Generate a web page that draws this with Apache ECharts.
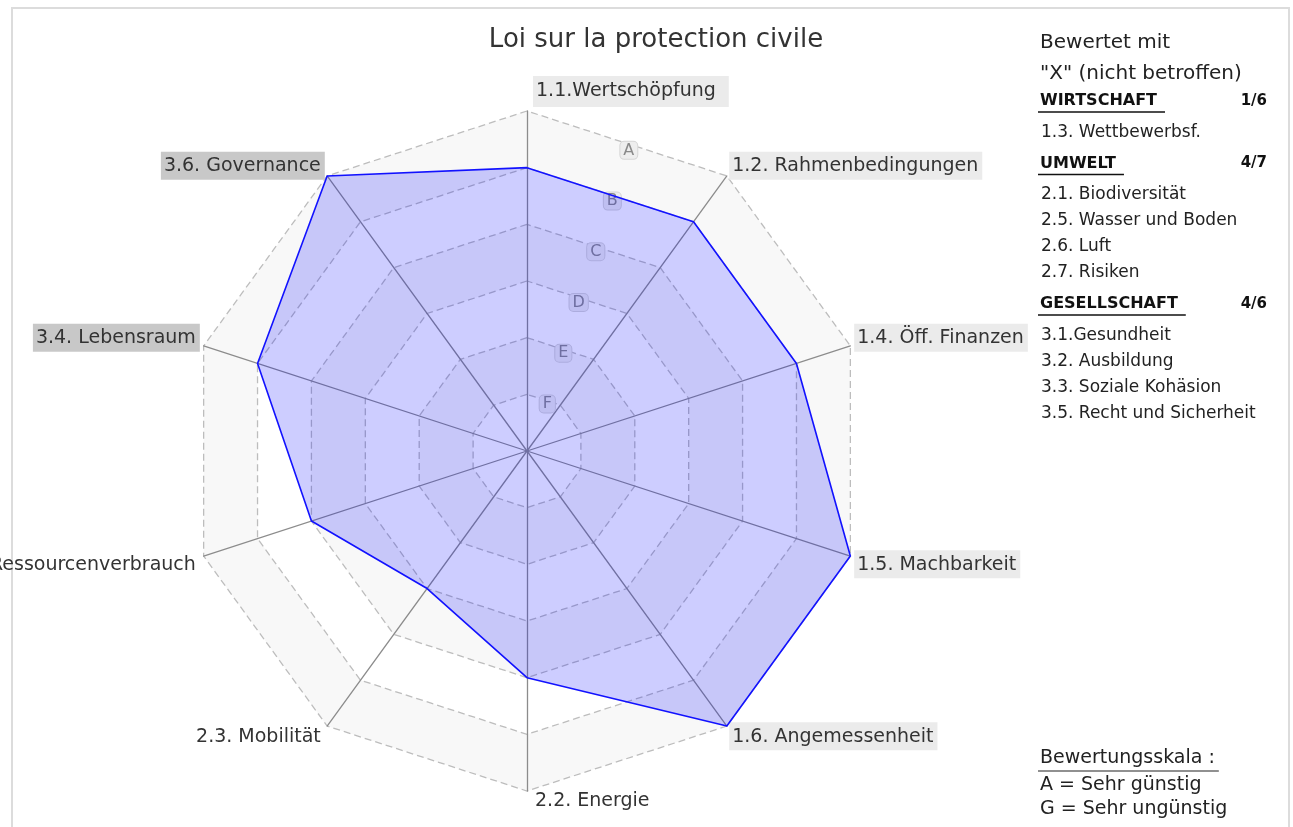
<!DOCTYPE html>
<html>
<head>
<meta charset="utf-8">
<script src="https://cdn.jsdelivr.net/npm/echarts@6/dist/echarts.min.js"></script>
<style>
  html, body { margin: 0; padding: 0; background: #fff; }
  #chart { width: 1293px; height: 827px; }
</style>
</head>
<body>
<div id="chart"></div>
<script>
// criteria, clockwise from the top
const categories = [
  '1.1.Wertschöpfung', '1.2. Rahmenbedingungen', '1.4. Öff. Finanzen', '1.5. Machbarkeit',
  '1.6. Angemessenheit', '2.2. Energie', '2.3. Mobilität', '2.4. Ressourcenverbrauch',
  '3.4. Lebensraum', '3.6. Governance'
];
const values = [5, 5, 5, 6, 6, 4, 3, 4, 5, 6];
const maxValue = 6;
const gradeLabels = ['', 'F', 'E', 'D', 'C', 'B', 'A'];

// side panel
const noteLines = ['Bewertet mit', '"X" (nicht betroffen)'];
const groupTitles = ['WIRTSCHAFT', 'UMWELT', 'GESELLSCHAFT'];
const groupCounts = ['1/6', '4/7', '4/6'];
const groupItems = [
  ['1.3. Wettbewerbsf.'],
  ['2.1. Biodiversität', '2.5. Wasser und Boden', '2.6. Luft', '2.7. Risiken'],
  ['3.1.Gesundheit', '3.2. Ausbildung', '3.3. Soziale Kohäsion', '3.5. Recht und Sicherheit']
];
const scaleLines = ['Bewertungsskala :', 'A = Sehr günstig', 'G = Sehr ungünstig'];

const FONT = '"DejaVu Sans", Verdana, sans-serif';
const NAME_SIZE = 19;
const nameBg = {
  '1.1.Wertschöpfung': 'lt', '1.2. Rahmenbedingungen': 'lt', '1.4. Öff. Finanzen': 'lt',
  '1.5. Machbarkeit': 'lt', '1.6. Angemessenheit': 'lt', '3.4. Lebensraum': 'dk', '3.6. Governance': 'dk'
};

const ctx = document.createElement('canvas').getContext('2d');
function textWidth(s, font) {
  ctx.font = font;
  return ctx.measureText(s).width;
}

// echarts radar runs counter-clockwise, so keep the first one on top and reverse the rest
const order = [0].concat(categories.map((c, i) => i).slice(1).reverse());

const topW = textWidth(categories[0], NAME_SIZE + 'px ' + FONT) + 3 + 13;
const bottomW = textWidth(categories[5], NAME_SIZE + 'px ' + FONT);

function nameFormatter(name) {
  const i = categories.indexOf(name);
  const bg = nameBg[name] || 'pl';
  if (i === 0) return '{hsTop| }{top|' + name + '}';
  if (i === 5) return '{hsBot| }{bot|' + name + '}';
  const angle = i * 36;
  if (angle < 90 || angle > 270) return '{' + bg + '|' + name + '}\n{sp| }';
  return '{sp| }\n{' + bg + '|' + name + '}';
}

const base = { fontSize: NAME_SIZE, fontFamily: FONT, color: '#333', padding: [5, 4, 4, 3] };
const rich = {
  lt: Object.assign({}, base, { backgroundColor: '#ebebeb' }),
  dk: Object.assign({}, base, { backgroundColor: '#c8c8c8' }),
  pl: Object.assign({}, base),
  top: Object.assign({}, base, { backgroundColor: '#ebebeb', padding: [6, 13, 6, 3] }),
  bot: Object.assign({}, base, { padding: 0, lineHeight: 12 }),
  sp: { height: 14, lineHeight: 14, fontSize: 1 },
  hsTop: { width: topW + 12, fontSize: 1 },
  hsBot: { width: bottomW + 16, fontSize: 1 }
};

const chart = echarts.init(document.getElementById('chart'));

const graphics = [
  { type: 'rect', shape: { x: 12, y: 8, width: 1277, height: 840 },
    style: { fill: null, stroke: '#dcdcdc', lineWidth: 2 }, silent: true }
];
noteLines.forEach((t, k) => {
  graphics.push({ type: 'text', x: 1040, y: 43 + k * 31,
    style: { text: t, font: '20px ' + FONT, fill: '#222', verticalAlign: 'middle' } });
});
let y = 101;
groupTitles.forEach((t, g) => {
  const w = textWidth(t, 'bold 16px ' + FONT);
  graphics.push({ type: 'text', x: 1040, y: y,
    style: { text: t, font: 'bold 16px ' + FONT, fill: '#111', verticalAlign: 'middle' } });
  graphics.push({ type: 'text', x: 1267, y: y,
    style: { text: groupCounts[g], font: 'bold 15px ' + FONT, fill: '#111', align: 'right', verticalAlign: 'middle' } });
  graphics.push({ type: 'line', shape: { x1: 1038, y1: y + 11, x2: 1038 + w + 10, y2: y + 11 },
    style: { stroke: '#111', lineWidth: 1.5 } });
  y += 31.5;
  groupItems[g].forEach((item, k) => {
    graphics.push({ type: 'text', x: 1041, y: y,
      style: { text: item, font: '17px ' + FONT, fill: '#222', verticalAlign: 'middle' } });
    y += (k === groupItems[g].length - 1) ? 31 : 26;
  });
});
[758, 785, 809].forEach((ty, k) => {
  graphics.push({ type: 'text', x: 1040, y: ty,
    style: { text: scaleLines[k], font: '19px ' + FONT, fill: '#222', verticalAlign: 'middle' } });
});
graphics.push({ type: 'line', shape: { x1: 1038, y1: 771, x2: 1038 + textWidth(scaleLines[0], '19px ' + FONT) + 6, y2: 771 },
  style: { stroke: '#222', lineWidth: 1.2 } });

const option = {
  animation: false,
  backgroundColor: '#fff',
  title: {
    text: 'Loi sur la protection civile',
    left: 651, top: 22, textAlign: 'center',
    textStyle: { fontFamily: FONT, fontSize: 26, fontWeight: 'normal', color: '#333' }
  },
  radar: [
    {
      center: [527, 451],
      radius: 340,
      startAngle: 90,
      shape: 'polygon',
      splitNumber: maxValue,
      indicator: order.map(i => ({ name: categories[i], min: 0, max: maxValue })),
      axisName: { formatter: nameFormatter, rich: rich, color: '#333' },
      nameGap: 4,
      axisLine: { lineStyle: { color: '#8c8c8c', width: 1.3 } },
      splitLine: { lineStyle: { color: '#bdbdbd', width: 1.3, type: [7, 4] } },
      splitArea: { areaStyle: { color: ['#fff', '#f8f8f8'] } }
    },
    {
      center: [527, 451],
      radius: 320,
      startAngle: 72,
      shape: 'polygon',
      splitNumber: maxValue,
      indicator: order.map((i, k) => ({
        name: '', min: 0, max: maxValue,
        axisLabel: { show: k === 0 }
      })),
      axisName: { show: false },
      axisLine: { show: false },
      splitLine: { show: false },
      splitArea: { show: false },
      axisLabel: {
        show: true,
        margin: -12,
        showMinLabel: false,
        formatter: v => gradeLabels[v] || '',
        fontFamily: FONT, fontSize: 16, color: '#8a8a8a',
        backgroundColor: '#eeeeee', borderColor: '#d6d6d6', borderWidth: 1,
        borderRadius: 4, padding: [1, 3, 0, 3]
      }
    }
  ],
  series: [{
    type: 'radar',
    radarIndex: 0,
    symbol: 'none',
    lineStyle: { color: '#1414ff', width: 1.6 },
    areaStyle: { color: 'rgba(0, 0, 255, 0.28)' },
    data: [{ value: order.map(i => values[i]), name: 'Loi sur la protection civile' }]
  }],
  graphic: { elements: graphics }
};

chart.setOption(option);
</script>
</body>
</html>
